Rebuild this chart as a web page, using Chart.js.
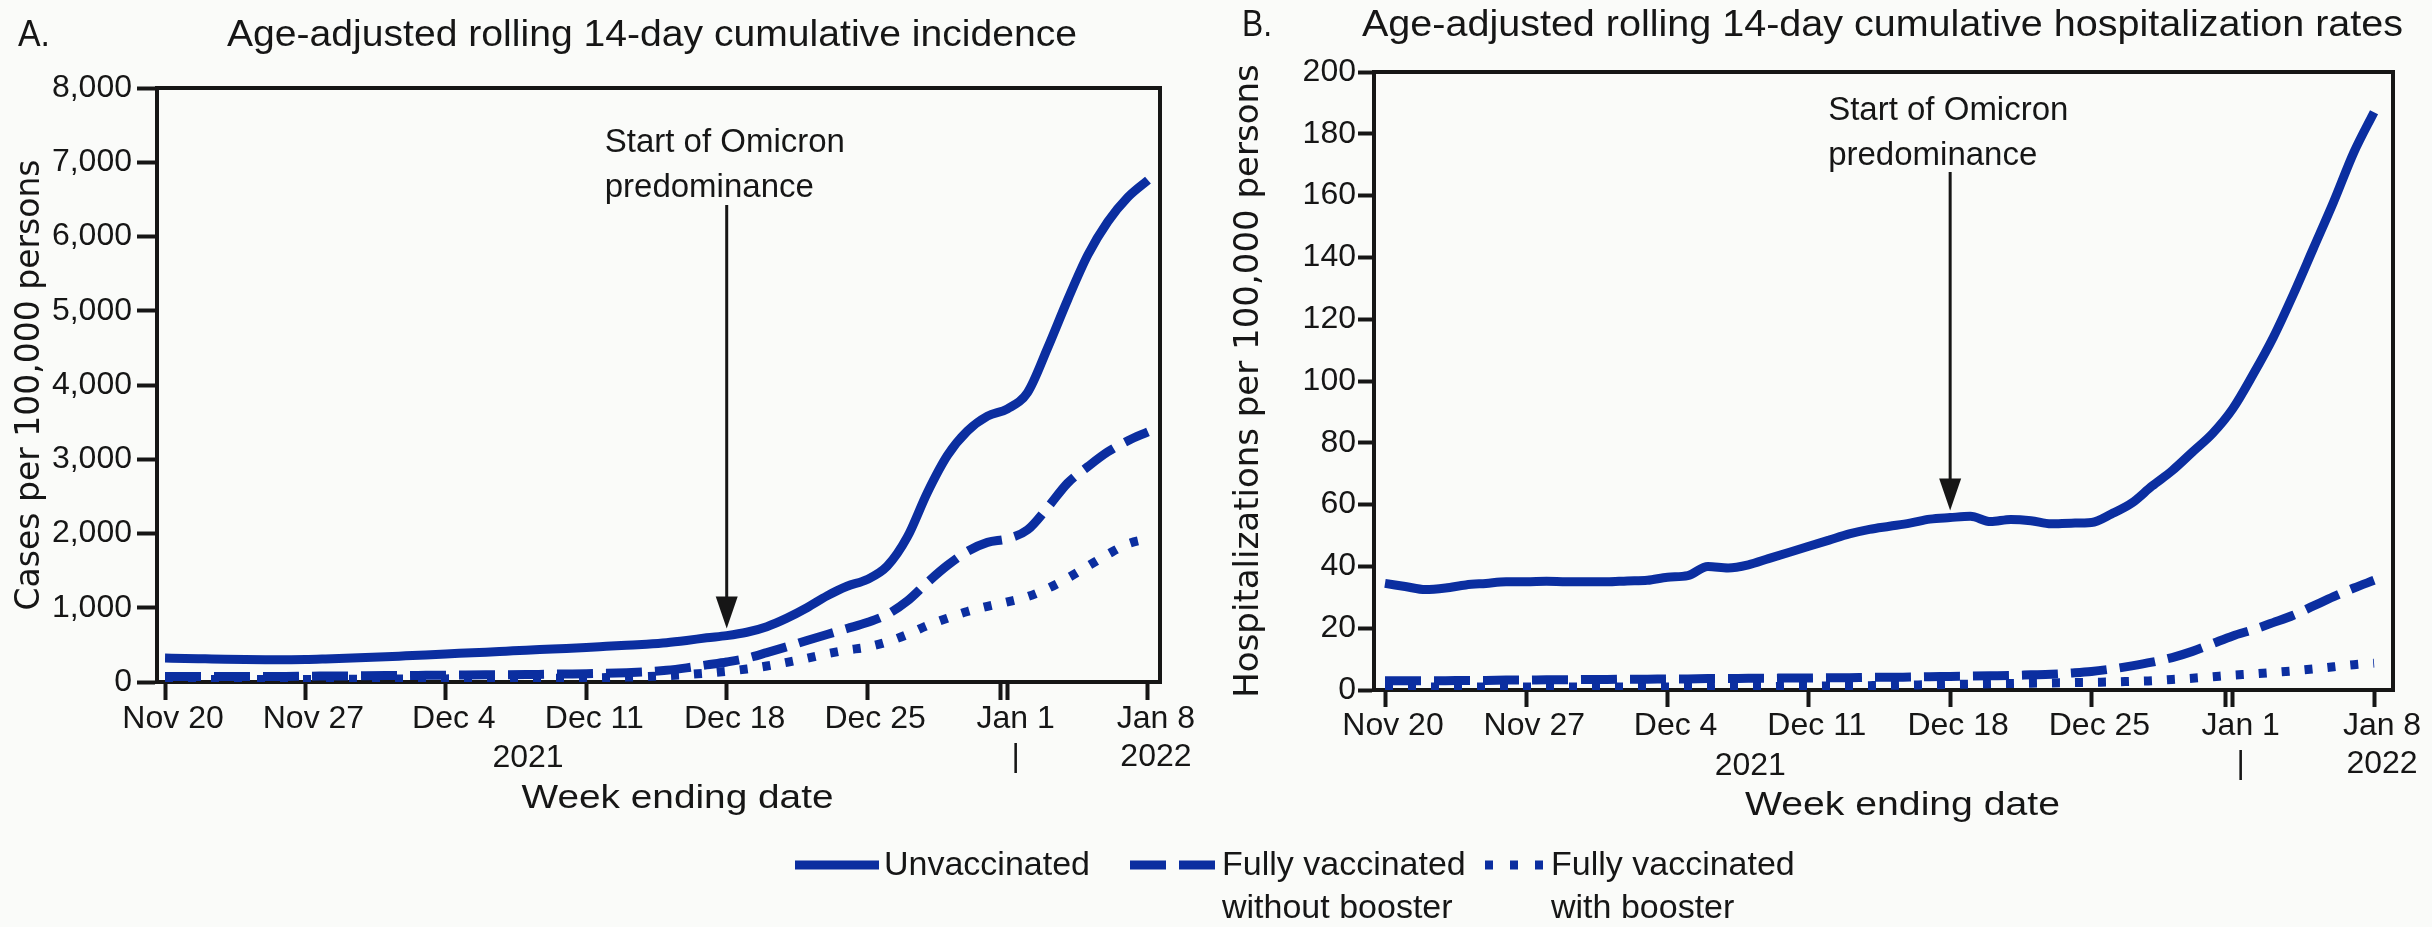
<!DOCTYPE html>
<html lang="en">
<head>
  <meta charset="UTF-8">
  <title>Age-adjusted rolling 14-day cumulative incidence and hospitalization rates</title>
  <script src="https://cdn.jsdelivr.net/npm/chart.js"></script>
  <style>
    body { margin: 0; background: #fafbf9; }
    #page { position: relative; width: 2432px; height: 927px; overflow: hidden;
            font-family: "Liberation Sans", Arial, sans-serif; color: #161616; }
    .panel { position: absolute; top: 0; }
    .key { position: absolute; font-size: 34px; line-height: 43px; white-space: nowrap; }
    .swatch { position: absolute; }
  </style>
</head>
<body>
<div id="page">
  <canvas id="incidence" class="panel" style="left:0" width="1216" height="850"></canvas>
  <canvas id="hosp" class="panel" style="left:1216px" width="1216" height="850"></canvas>

  <svg class="swatch" style="left:795px;top:858px" width="84" height="14">
    <line x1="0" y1="7" x2="84" y2="7" stroke="#0b2ea0" stroke-width="9"/>
  </svg>
  <div class="key" style="left:884px;top:842px">Unvaccinated</div>
  <svg class="swatch" style="left:1130px;top:858px" width="85" height="14">
    <line x1="0" y1="7" x2="85" y2="7" stroke="#0b2ea0" stroke-width="9" stroke-dasharray="36 13"/>
  </svg>
  <div class="key" style="left:1222px;top:842px">Fully vaccinated<br>without booster</div>
  <svg class="swatch" style="left:1485px;top:858px" width="58" height="14">
    <line x1="0" y1="7" x2="58" y2="7" stroke="#0b2ea0" stroke-width="9" stroke-dasharray="8 17"/>
  </svg>
  <div class="key" style="left:1551px;top:842px">Fully vaccinated<br>with booster</div>
</div>

<script>
  // days since Nov 20, 2021 (0 = Nov 20 ... 49 = Jan 8, 2022)
  const weekDays = [0, 7, 14, 21, 28, 35, 42, 49];
  const weekLabels = [["Nov 20"], ["Nov 27"], ["Dec 4"], ["Dec 11"], ["Dec 18"], ["Dec 25"], ["Jan 1", "|"], ["Jan 8", "2022"]];
  const yearLabel = "2021";
  const omicronDay = 28;   // Dec 18
  const yearBreakDay = 41.65;

  // A. cases per 100,000
  const casesUnvax = [
    322, 318, 312, 306, 302, 300, 300,
    302, 310, 320, 330, 340, 352, 364,
    378, 390, 402, 415, 428, 440, 452,
    465, 480, 495, 510, 530, 560, 595,
    625, 670, 745, 860, 1000, 1160, 1290,
    1380, 1560, 1950, 2550, 3050, 3380, 3580,
    3680, 3900, 4500, 5150, 5750, 6200, 6530,
    6760];
  const casesNoBooster = [
    75, 75, 75, 75, 75, 75, 75,
    78, 80, 82, 84, 86, 88, 90,
    92, 94, 96, 98, 100, 104, 108,
    112, 118, 126, 138, 158, 190, 230,
    270, 320, 395, 475, 560, 640, 720,
    800, 910, 1090, 1340, 1570, 1760, 1880,
    1930, 2050, 2350, 2680, 2900, 3100, 3250,
    3370];
  const casesBooster = [
    35, 35, 35, 35, 35, 35, 35,
    35, 36, 37, 38, 39, 40, 41,
    42, 43, 44, 46, 48, 50, 52,
    55, 60, 66, 74, 85, 100, 120,
    145, 175, 215, 265, 320, 380, 430,
    470, 540, 640, 760, 860, 950, 1020,
    1080, 1150, 1260, 1400, 1560, 1720, 1860,
    1930];

  // B. hospitalizations per 100,000
  const hospUnvax = [
    34.5, 33.5, 32.5, 33, 34, 34.5, 35,
    35, 35.2, 35, 35, 35, 35.3, 35.5,
    36.5, 37, 40, 39.5, 40.5, 42.5, 44.5,
    46.5, 48.5, 50.5, 52, 53, 54, 55.3,
    55.8, 56.2, 54.5, 55.2, 54.8, 53.8, 54,
    54.2, 57, 60.5, 66, 71, 77, 83,
    91, 102, 114, 128, 143, 158, 174,
    187];
  const hospNoBooster = [
    3.0, 3.0, 3.0, 3.0, 3.1, 3.1, 3.2,
    3.2, 3.3, 3.3, 3.4, 3.4, 3.5, 3.5,
    3.6, 3.6, 3.7, 3.7, 3.8, 3.8, 3.9,
    3.9, 4.0, 4.0, 4.1, 4.1, 4.2, 4.3,
    4.4, 4.5, 4.6, 4.7, 4.9, 5.1, 5.5,
    6.0, 6.8, 7.8, 9.0, 10.5, 12.5, 15.0,
    17.5, 19.5, 21.8, 24.2, 27.2, 30.2, 33.0,
    35.5];
  const hospBooster = [
    1.0, 1.0, 1.0, 1.0, 1.0, 1.0, 1.0,
    1.0, 1.0, 1.0, 1.0, 1.0, 1.0, 1.0,
    1.0, 1.0, 1.0, 1.1, 1.1, 1.1, 1.2,
    1.2, 1.3, 1.3, 1.4, 1.5, 1.6, 1.7,
    1.8, 1.9, 2.0, 2.1, 2.2, 2.3, 2.4,
    2.5, 2.6, 2.8, 3.0, 3.4, 3.8, 4.3,
    4.8, 5.2, 5.7, 6.2, 6.8, 7.5, 8.2,
    8.7];

  const BLUE = "#0b2ea0";
  const INK = "#161616";
  const FONT = '"Liberation Sans", Arial, sans-serif';

  // draw text squeezed/stretched to a given width
  function fitText(ctx, text, x, y, w) {
    const sx = w / ctx.measureText(text).width;
    ctx.save();
    ctx.translate(x, y);
    ctx.scale(sx, 1);
    ctx.fillText(text, 0, 0);
    ctx.restore();
  }

  const panelDecor = {
    id: "panelDecor",
    afterDraw(chart, args, o) {
      const { ctx, chartArea: a, scales: { x, y } } = chart;
      ctx.save();
      ctx.strokeStyle = INK;
      ctx.fillStyle = INK;

      // box: top and right sides
      ctx.lineWidth = 4;
      ctx.beginPath();
      ctx.moveTo(a.left - 2, a.top);
      ctx.lineTo(a.right, a.top);
      ctx.lineTo(a.right, a.bottom + 2);
      ctx.stroke();

      // panel letter + title
      ctx.textAlign = "left";
      ctx.textBaseline = "alphabetic";
      ctx.font = "36px " + FONT;
      fitText(ctx, o.letter, o.letterX, o.titleY, o.letterW);
      fitText(ctx, o.title, o.titleX, o.titleY, o.titleW);

      // x axis title
      ctx.font = "34px " + FONT;
      const xt = "Week ending date";
      fitText(ctx, xt, (a.left + a.right) / 2 + 19 - o.xTitleW / 2, o.xTitleY, o.xTitleW);

      // year under the December ticks
      ctx.font = "32px " + FONT;
      ctx.textAlign = "center";
      ctx.textBaseline = "middle";
      ctx.fillText(yearLabel, (x.getPixelForValue(14) + x.getPixelForValue(21)) / 2 + 12, o.yearY);

      // Omicron arrow
      const ax = x.getPixelForValue(omicronDay);
      const tip = y.getPixelForValue(o.series[omicronDay]) - 7;
      ctx.lineWidth = 3;
      ctx.beginPath();
      ctx.moveTo(ax, o.arrowTop);
      ctx.lineTo(ax, tip - 28);
      ctx.stroke();
      ctx.beginPath();
      ctx.moveTo(ax - 11, tip - 32);
      ctx.lineTo(ax + 11, tip - 32);
      ctx.lineTo(ax, tip);
      ctx.closePath();
      ctx.fill();

      ctx.textAlign = "left";
      ctx.textBaseline = "middle";
      ctx.font = "33px " + FONT;
      ctx.fillText("Start of Omicron", ax - 122, o.noteY);
      ctx.fillText("predominance", ax - 122, o.noteY + 45);
      ctx.restore();
    }
  };

  function lineSet(label, values, dash) {
    return {
      label: label,
      data: values.map((v, i) => ({ x: i, y: v })),
      borderColor: BLUE,
      borderWidth: 9,
      borderDash: dash,
      borderCapStyle: "butt",
      pointRadius: 0,
      cubicInterpolationMode: "monotone",
      fill: false
    };
  }

  function xLabel(v) {
    const k = weekDays.indexOf(v);
    return k < 0 ? "" : weekLabels[k];
  }

  function buildPanel(id, p) {
    return new Chart(document.getElementById(id), {
      type: "line",
      data: {
        datasets: [
          lineSet("Unvaccinated", p.unvax, []),
          lineSet("Fully vaccinated without booster", p.noBooster, [36, 13]),
          lineSet("Fully vaccinated with booster", p.booster, [8, 15])
        ]
      },
      options: {
        responsive: false,
        animation: false,
        layout: { padding: { top: p.top, right: p.right, left: 0, bottom: 0 } },
        plugins: {
          legend: { display: false },
          tooltip: { enabled: false },
          panelDecor: Object.assign({ series: p.unvax }, p.decor)
        },
        scales: {
          x: {
            type: "linear",
            min: p.xMin,
            max: p.xMax,
            afterBuildTicks: s => {
              s.ticks = weekDays.concat([yearBreakDay]).sort((m, n) => m - n).map(v => ({ value: v }));
            },
            afterFit: s => { s.height = 850 - p.bottom; },
            border: { color: INK, width: 4 },
            grid: { drawOnChartArea: false, tickLength: p.xTick, tickWidth: 4, tickColor: INK },
            ticks: {
              autoSkip: false, maxRotation: 0, minRotation: 0, padding: 0, labelOffset: 8,
              color: INK, font: { family: FONT, size: 32, lineHeight: 1.2 },
              callback: xLabel
            }
          },
          y: {
            min: 0,
            max: p.yMax,
            afterFit: s => { s.width = p.left; },
            border: { color: INK, width: 4 },
            grid: { drawOnChartArea: false, tickLength: p.yTick, tickWidth: 4, tickColor: INK },
            ticks: {
              stepSize: p.yStep, padding: p.yPad, color: INK,
              font: { family: FONT, size: 32 },
              callback: v => v.toLocaleString("en-US")
            },
            title: {
              display: true, text: p.yTitle, color: INK,
              font: { family: '"DejaVu Sans", sans-serif', size: p.yTitleSize, lineHeight: 1.2 },
              padding: { top: p.yTitlePad, bottom: 0 }
            }
          }
        }
      },
      plugins: [panelDecor]
    });
  }

  buildPanel("incidence", {
    unvax: casesUnvax, noBooster: casesNoBooster, booster: casesBooster,
    top: 88, bottom: 682, left: 157, right: 1216 - 1160,
    xMin: -0.4, xMax: 49.6, xTick: 18,
    yMax: 8000, yStep: 1000, yTick: 20, yPad: 5,
    yTitle: "Cases per 100,000 persons", yTitleSize: 33, yTitlePad: 11,
    decor: {
      letter: "A.", letterX: 18, letterW: 32,
      title: "Age-adjusted rolling 14-day cumulative incidence", titleX: 227, titleW: 850, titleY: 46,
      xTitleW: 312, xTitleY: 808, yearY: 758, arrowTop: 205, noteY: 143
    }
  });

  buildPanel("hosp", {
    unvax: hospUnvax, noBooster: hospNoBooster, booster: hospBooster,
    top: 72, bottom: 690, left: 158, right: 1216 - 1177,
    xMin: -0.545, xMax: 49.94, xTick: 17,
    yMax: 200, yStep: 20, yTick: 16, yPad: 2,
    yTitle: "Hospitalizations per 100,000 persons", yTitleSize: 34, yTitlePad: 13,
    decor: {
      letter: "B.", letterX: 26, letterW: 30,
      title: "Age-adjusted rolling 14-day cumulative hospitalization rates", titleX: 146, titleW: 1041, titleY: 36,
      xTitleW: 315, xTitleY: 815, yearY: 766, arrowTop: 172, noteY: 111
    }
  });
</script>
</body>
</html>
